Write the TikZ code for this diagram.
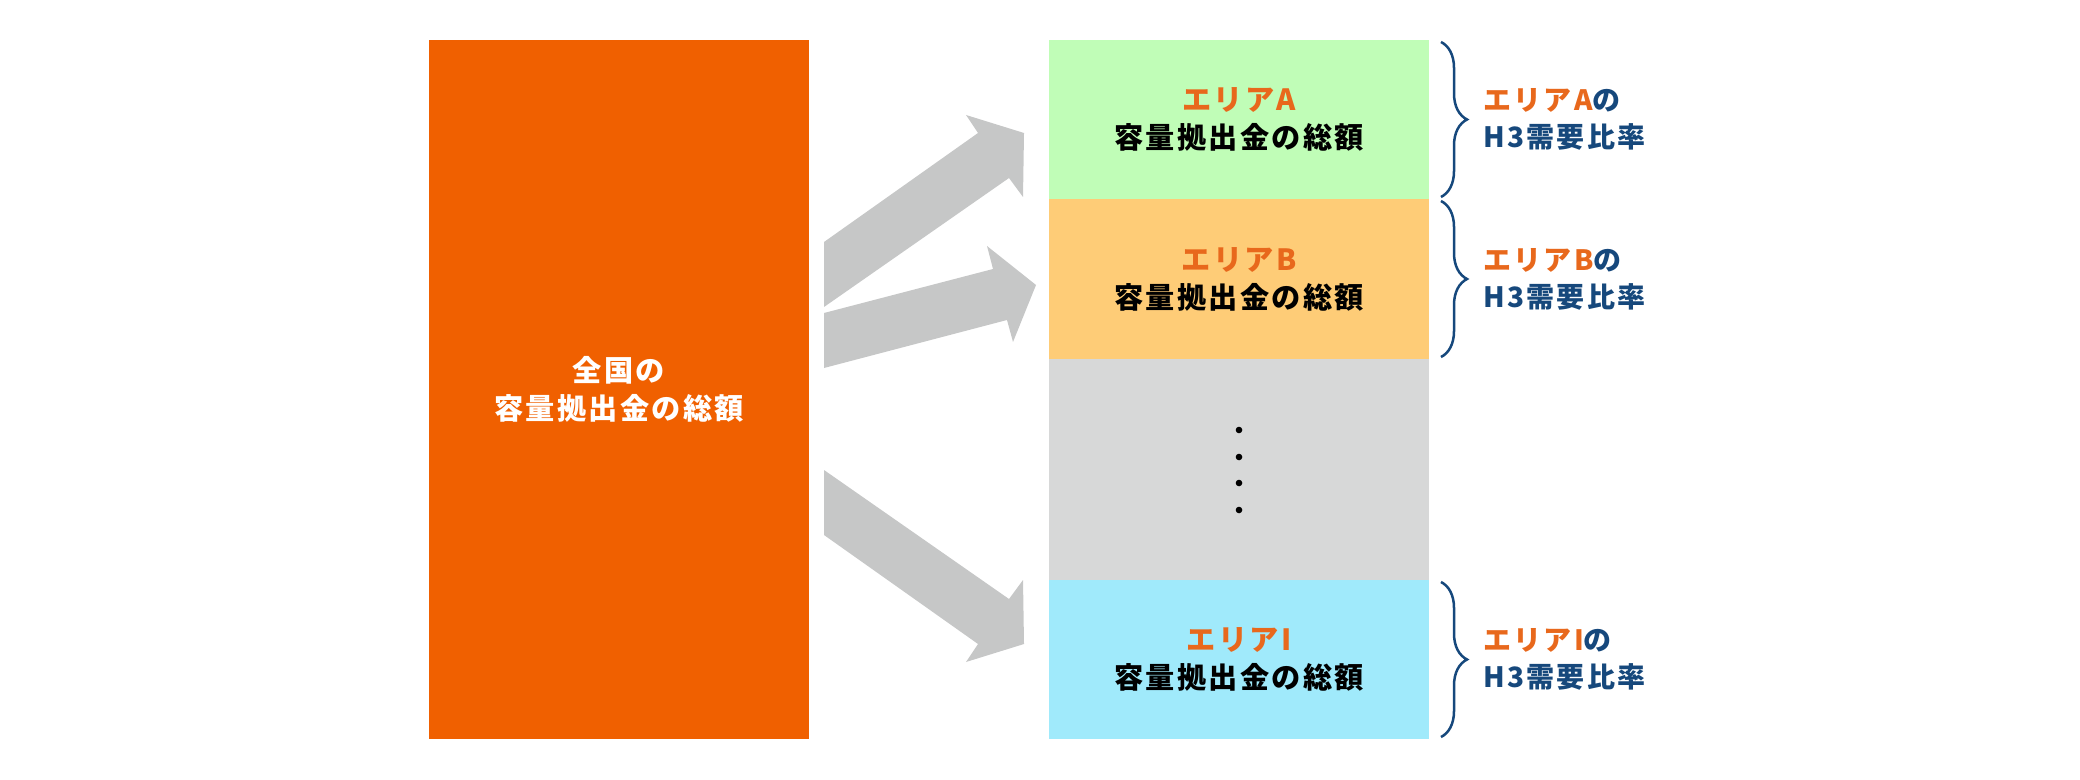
\documentclass[tikz,border=0pt]{standalone}
\usepackage{fontspec}
\setmainfont{Noto Sans CJK JP}[LetterSpace=8]
\usepackage{tikz}
\usepackage{xcolor}
\usetikzlibrary{positioning, decorations.pathreplacing}
\definecolor{colNation}{RGB}{240,96,0}
\definecolor{colAreaA}{RGB}{192,253,183}
\definecolor{colAreaB}{RGB}{254,204,119}
\definecolor{colGap}{RGB}{215,216,216}
\definecolor{colAreaI}{RGB}{160,234,251}
\definecolor{colFlow}{RGB}{198,199,199}
\definecolor{colLabel}{RGB}{232,104,28}
\definecolor{colRatio}{RGB}{22,72,124}

\begin{document}
\begin{tikzpicture}[
  x=0.5pt, y=-0.5pt,
  box/.style={rectangle, draw=none, inner sep=0pt, outer sep=0pt,
              minimum width=190pt, align=center,
              font=\bfseries\fontsize{14.6pt}{19pt}\selectfont},
  flow/.style={fill=colFlow},
  brace/.style={decorate, decoration={brace, amplitude=13pt}, draw=colRatio, line width=1.25pt},
  ratio/.style={inner sep=0pt, align=left, text=colRatio,
                font=\bfseries\fontsize{14pt}{18.5pt}\selectfont},
]
\useasboundingbox (0,0) rectangle (2080,780);

\node[box, fill=colNation, text=white, minimum height=349.5pt] at (619,389.5) (nation) {全国の\\容量拠出金の総額};

\node[box, fill=colAreaA, minimum height=79.5pt] at (1239,119.5) (areaA) {{\color{colLabel}エリアA}\\容量拠出金の総額};
\node[box, fill=colAreaB, minimum height=80pt, below=0pt of areaA] (areaB) {{\color{colLabel}エリアB}\\容量拠出金の総額};
\node[box, fill=colGap, minimum height=110.5pt, below=0pt of areaB] (gap) {};
\node[box, fill=colAreaI, minimum height=79.5pt, below=0pt of gap] (areaI) {{\color{colLabel}エリアI}\\容量拠出金の総額};

% dots for the omitted areas
\foreach \y in {430,457,483,510}
  \fill (1239,\y) circle (1.65pt);

% block arrows
\fill[flow] (824,307) -- (1009,178) -- (1023,197) -- (1024,133) -- (966,115) -- (978,133) -- (824,242) -- cycle;
\fill[flow] (824,368) -- (1007,320) -- (1013,342) -- (1036,285) -- (987,246) -- (993,269) -- (824,313) -- cycle;
\fill[flow] (824,470) -- (1009,599) -- (1023,580) -- (1024,644) -- (966,662) -- (978,644) -- (824,535) -- cycle;

% braces and ratios
\foreach \a/\n in {areaA/A, areaB/B, areaI/I} {
  \draw[brace] ([xshift=6pt, yshift=-1pt]\a.north east) -- ([xshift=6pt, yshift=1pt]\a.south east);
  \node[ratio, right=27pt of \a.east] (ratio\n) {{\color{colLabel}エリア\n}の\\H3需要比率};
}

\end{tikzpicture}
\end{document}
